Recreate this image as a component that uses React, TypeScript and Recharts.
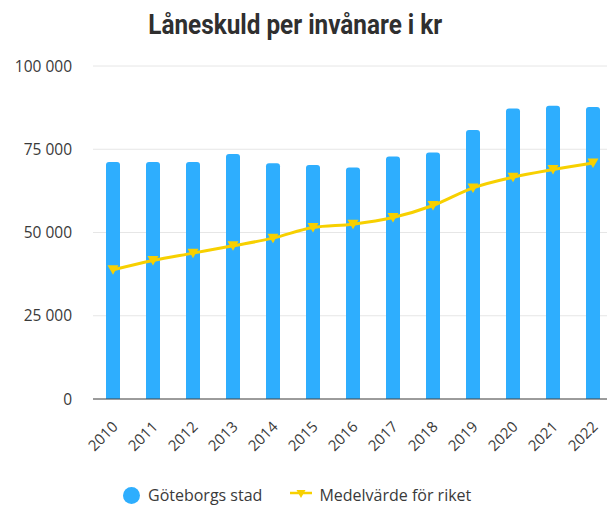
import { ComposedChart, Bar, Line, XAxis, YAxis, CartesianGrid, Legend } from 'recharts';

const years = ['2010', '2011', '2012', '2013', '2014', '2015', '2016', '2017', '2018', '2019', '2020', '2021', '2022'];
const goteborg = [71200, 71200, 71200, 73600, 70800, 70300, 69500, 72800, 74000, 80800, 87200, 88100, 87700];
const riket = [38800, 41600, 43800, 46000, 48300, 51500, 52500, 54500, 58100, 63400, 66600, 68900, 70900];
const yTicks = [0, 25000, 50000, 75000, 100000];

const BLUE = '#2eaefe';
const YELLOW = '#f7d000';
const FONT = '"Open Sans", Roboto, sans-serif';
const TEXT = '#3a3a3a';

const data = years.map((year, i) => ({ year, goteborg: goteborg[i], riket: riket[i] }));

const fmt = (v: number) => String(v).replace(/\B(?=(\d{3})+(?!\d))/g, ' ');

function TriangleDot(props: any) {
  const { cx, cy } = props;
  if (cx == null || cy == null) return null;
  return <path d={`M${cx - 5.5},${cy - 4.5} L${cx + 5.5},${cy - 4.5} L${cx},${cy + 5} Z`} fill={YELLOW} />;
}

function YearTick(props: any) {
  const { x, y, payload } = props;
  return (
    <g transform={`translate(${x + 2},${y + 17})`}>
      <text textAnchor="end" transform="rotate(-45)" fontSize={15} fill={TEXT} fontFamily={FONT} dy="0.35em">
        {payload.value}
      </text>
    </g>
  );
}

function LegendContent() {
  return (
    <div style={{ height: 30, display: 'flex', alignItems: 'center', paddingLeft: 123, paddingTop: 10, boxSizing: 'border-box', fontFamily: FONT, fontSize: 16, color: TEXT }}>
      <span style={{ display: 'inline-block', width: 17, height: 17, borderRadius: 9, background: BLUE, marginRight: 8 }} />
      <span style={{ marginRight: 28 }}>Göteborgs stad</span>
      <svg width={22} height={12} style={{ marginRight: 7 }}>
        <line x1={0} y1={4} x2={22} y2={4} stroke={YELLOW} strokeWidth={2.5} />
        <path d="M6.5,1 L15.5,1 L11,9 Z" fill={YELLOW} />
      </svg>
      <span>Medelvärde för riket</span>
    </div>
  );
}

export default function App() {
  return (
    <div style={{ position: 'absolute', left: 0, top: 0, width: 607, height: 505, overflow: 'hidden', background: '#fff' }}>
      <div style={{ position: 'absolute', left: 0, top: 9, width: 590, textAlign: 'center' }}>
        <span style={{ display: 'inline-block', transform: 'scaleX(0.9)', fontFamily: 'Roboto, sans-serif', fontWeight: 700, fontSize: 27, color: '#2f2f2f' }}>
          Låneskuld per invånare i kr
        </span>
      </div>
      <ComposedChart width={613} height={505} data={data} margin={{ top: 66, right: 0, bottom: 0, left: 0 }}>
        <CartesianGrid vertical={false} stroke="#e6e6e6" />
        <XAxis dataKey="year" height={76} axisLine={{ stroke: '#444' }} tickLine={false} interval={0} tick={<YearTick />} />
        <YAxis
          width={93}
          domain={[0, 100000]}
          ticks={yTicks}
          tickFormatter={fmt}
          axisLine={false}
          tickLine={false}
          tickSize={0}
          tickMargin={21}
          tick={{ fontSize: 15.5, fill: TEXT, fontFamily: FONT }}
        />
        <Legend verticalAlign="bottom" content={<LegendContent />} />
        <Bar dataKey="goteborg" name="Göteborgs stad" fill={BLUE} barSize={14} radius={[3, 3, 0, 0]} isAnimationActive={false} />
        <Line type="monotone" dataKey="riket" name="Medelvärde för riket" stroke={YELLOW} strokeWidth={3} dot={<TriangleDot />} activeDot={false} isAnimationActive={false} />
      </ComposedChart>
    </div>
  );
}
